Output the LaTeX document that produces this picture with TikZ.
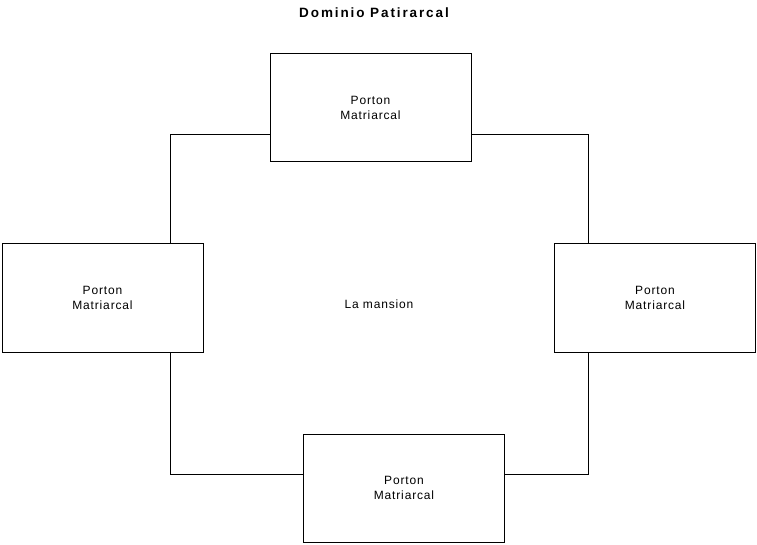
\documentclass[tikz,border=0pt]{standalone}
\usepackage{fontspec}
\setmainfont{Liberation Sans}
\newfontfamily\etiqueta[LetterSpace=7]{Liberation Sans}
\newfontfamily\cabecera[LetterSpace=14]{Liberation Sans}
\usetikzlibrary{positioning}
\tikzset{
  mansion/.style = {
    rectangle, draw=black, line width=1pt, inner sep=0pt,
    minimum width=418pt, minimum height=339pt,
    text centered, font=\etiqueta\fontsize{12}{15}\selectfont
  },
  porton/.style = {
    rectangle, draw=black, line width=1pt, fill=white, inner sep=0pt,
    minimum width=201pt, minimum height=108pt,
    align=center, font=\etiqueta\fontsize{12}{15}\selectfont
  },
  titulo/.style = {font=\cabecera\bfseries\fontsize{13.5}{16}\selectfont}
}
\begin{document}
\begin{tikzpicture}[x=1pt, y=-1pt]
  \useasboundingbox (0,0) rectangle (757,545);
  % Title
  \node[titulo] (title) at (374,13) {Dominio Patirarcal};
  % The house
  \node[mansion] (casa) at (379,304.5) {La mansion};
  % Gates
  \node[porton] (norte) at (370.5,107.5) {Porton\\Matriarcal};
  \node[porton] (oeste) at (102.5,298)   {Porton\\Matriarcal};
  \node[porton] (este)  at (655,298)     {Porton\\Matriarcal};
  \node[porton] (sur)   at (404,488)     {Porton\\Matriarcal};
\end{tikzpicture}
\end{document}
